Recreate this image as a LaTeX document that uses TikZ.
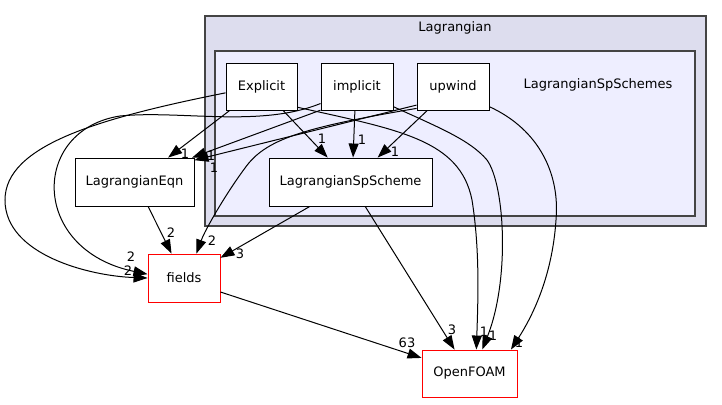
\documentclass[tikz,border=0pt]{standalone}
\usepackage{fontspec}
\setmainfont{DejaVu Sans}
\usepackage{tikz}
\usetikzlibrary{arrows.meta}
\definecolor{ClusterOuter}{RGB}{221,221,238}
\definecolor{ClusterInner}{RGB}{238,238,255}
\definecolor{ClusterLine}{RGB}{68,68,68}
\definecolor{DepRed}{RGB}{255,0,0}

\begin{document}
\begin{tikzpicture}[x=1pt,y=-1pt,font=\fontsize{13}{15}\selectfont,
  dirbox/.style={draw=black,fill=white,line width=0.9pt,inner sep=0pt,
    minimum width=#1,minimum height=47pt},
  extbox/.style={dirbox=#1,draw=DepRed},
  dep/.style={-{Triangle[length=14pt,width=10pt]},line width=1pt},
  lbl/.style={inner sep=0pt}]
  \useasboundingbox (0,0) rectangle (722,404);

  % clusters
  \draw[fill=ClusterOuter,draw=ClusterLine,line width=1.5pt] (205,16) rectangle (706,226);
  \node (lagTitle) at (455,28) {Lagrangian};
  \draw[fill=ClusterInner,draw=ClusterLine,line width=1.5pt] (215,51) rectangle (695,216);
  \node (spTitle) at (598,85) {LagrangianSpSchemes};

  % directories
  \node[dirbox=71pt] (Explicit) at (261.5,86.5) {Explicit};
  \node[dirbox=72pt] (implicit) at (357,86.5) {implicit};
  \node[dirbox=72pt] (upwind) at (453,86.5) {upwind};
  \node[dirbox=163pt,minimum height=48pt] (LSp) at (350.5,182) {LagrangianSpScheme};
  \node[dirbox=119pt,minimum height=48pt] (LEqn) at (134.5,182) {LagrangianEqn};
  \node[extbox=72pt,minimum height=48pt] (fields) at (184,278) {fields};
  \node[extbox=95pt] (OpenFOAM) at (469.5,373.5) {OpenFOAM};

  % into LagrangianEqn
  \draw[dep] (Explicit.217) -- (LEqn.36);
  \draw[dep] (implicit.213) -- (LEqn.23);
  \draw[dep] (upwind.207) -- (LEqn.20);

  % into LagrangianSpScheme
  \draw[dep] (Explicit.312) -- (LSp.133);
  \draw[dep] (implicit.265) -- (LSp.84);
  \draw[dep] (upwind.223) -- (LSp.42);

  % into fields
  \draw[dep] (Explicit.190) .. controls (100,118) and (5,145) .. (5,200)
    .. controls (5,255) and (90,276) .. (fields.west);
  \draw[dep] (implicit.205) .. controls (260,128) and (180,110) .. (120,116)
    .. controls (30,130) and (30,250) .. (fields.174);
  \draw[dep] (upwind.211) .. controls (300,128) and (265,140) .. (245,168)
    .. controls (225,195) and (205,230) .. (fields.63);
  \draw[dep] (LEqn.299) -- (fields.117);
  \draw[dep] (LSp.211) -- (fields.29);

  % into OpenFOAM
  \draw[dep] (fields.339) -- (OpenFOAM.162);
  \draw[dep] (LSp.301) -- (OpenFOAM.122);
  \draw[dep] (Explicit.330) .. controls (400,130) and (460,140) .. (472,200)
    .. controls (480,250) and (478,300) .. (OpenFOAM.74);
  \draw[dep] (implicit.331) .. controls (440,128) and (470,140) .. (487,160)
    .. controls (505,185) and (510,280) .. (OpenFOAM.62);
  \draw[dep] (upwind.331) .. controls (540,130) and (560,175) .. (556,220)
    .. controls (552,280) and (530,320) .. (OpenFOAM.30);

  % edge counts
  \node[lbl] (nExplicitEqn) at (185,154) {1};
  \node[lbl] (nImplicitEqn) at (211,156) {1};
  \node[lbl] (nUpwindEqn) at (214,168) {1};
  \node[lbl] (nExplicitFields) at (131,257) {2};
  \node[lbl] (nImplicitFields) at (128,271) {2};
  \node[lbl] (nExplicitSp) at (322,139) {1};
  \node[lbl] (nImplicitSp) at (362,140) {1};
  \node[lbl] (nUpwindSp) at (395,152) {1};
  \node[lbl] (nUpwindFields) at (212,241) {2};
  \node[lbl] (nEqnFields) at (171,233) {2};
  \node[lbl] (nSpFields) at (240,254) {3};
  \node[lbl] (nFieldsFoam) at (407,343) {63};
  \node[lbl] (nSpFoam) at (452,330) {3};
  \node[lbl] (nExplicitFoam) at (484,332) {1};
  \node[lbl] (nImplicitFoam) at (493,336) {1};
  \node[lbl] (nUpwindFoam) at (519,343) {1};
\end{tikzpicture}
\end{document}
